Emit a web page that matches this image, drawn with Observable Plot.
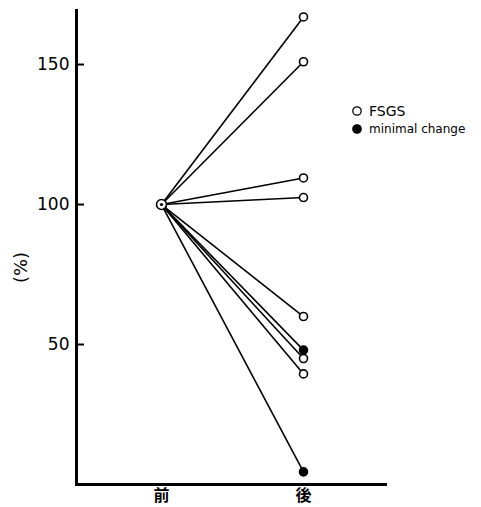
<!DOCTYPE html>
<html>
<head>
<meta charset="utf-8">
<script src="https://cdn.jsdelivr.net/npm/d3@7"></script>
<script src="https://cdn.jsdelivr.net/npm/@observablehq/plot@0.6"></script>
<style>
  html, body { margin: 0; padding: 0; background: #fff; }
  #wrap { position: relative; width: 481px; height: 507px; }
  #legend { position: absolute; left: 351px; top: 102px; font-family: "DejaVu Sans", sans-serif; color: #000; }
  #legend .row { display: flex; align-items: center; height: 18px; }
  #legend svg { margin-right: 6px; }
</style>
</head>
<body>
<div id="wrap"></div>
<script>
// ---- data ----
const stages = ["前", "後"];
const beforeValues = [100, 100, 100, 100, 100, 100, 100, 100, 100];
const afterValues = [167, 151, 109.5, 102.5, 60, 48, 45, 39.5, 4.5];
const groups = ["FSGS", "FSGS", "FSGS", "FSGS", "FSGS", "minimal change", "FSGS", "FSGS", "minimal change"];
const groupNames = ["FSGS", "minimal change"];
const groupFills = ["white", "black"];
const yTicks = [50, 100, 150];
const yLabel = "(%)";

const idx = afterValues.map((_, i) => i);
const cjk = '"Noto Sans CJK JP", sans-serif';

const chart = Plot.plot({
  width: 481,
  height: 507,
  marginLeft: 76,
  marginRight: 94,
  marginTop: 10,
  marginBottom: 23,
  style: { fontFamily: '"DejaVu Sans", sans-serif', background: "white", color: "black", overflow: "visible" },
  x: { type: "point", domain: stages, padding: 0.595, align: 0.5 },
  y: { domain: [0, 169.3] },
  color: { domain: groupNames, range: groupFills },
  marks: [
    Plot.frame({ anchor: "left", strokeWidth: 3 }),
    Plot.ruleY([0], { strokeWidth: 3 }),
    Plot.axisY({ ticks: yTicks, tickSize: 8, dx: 8, strokeWidth: 2, tickFormat: () => "", label: null }),
    Plot.axisY({ ticks: yTicks, tickSize: 0, tickPadding: 7, fontSize: 17, label: null }),
    Plot.axisX({ tickSize: 0, tickPadding: 5, fontSize: 16, fontWeight: "bold", fontFamily: cjk, label: null }),
    Plot.text([yLabel], { frameAnchor: "left", y: () => 78, dx: -55, dy: 17, rotate: -90, fontSize: 18 }),
    Plot.link(idx, {
      x1: () => stages[0], y1: i => beforeValues[i],
      x2: () => stages[1], y2: i => afterValues[i],
      stroke: "black", strokeWidth: 1.6
    }),
    Plot.dot(idx, { x: () => stages[1], y: i => afterValues[i], fill: i => groups[i], stroke: "black", strokeWidth: 1.6, r: 4 }),
    Plot.dot([beforeValues[0]], { x: () => stages[0], y: d => d, fill: "white", stroke: "black", strokeWidth: 1.6, r: 5 }),
    Plot.dot([beforeValues[0]], { x: () => stages[0], y: d => d, fill: "black", r: 1.6 })
  ]
});
document.getElementById("wrap").appendChild(chart);

// legend
const legend = document.createElement("div");
legend.id = "legend";
groupNames.forEach((g, i) => {
  const row = document.createElement("div");
  row.className = "row";
  row.innerHTML = `<svg width="12" height="12"><circle cx="6" cy="6" r="4.2" fill="${groupFills[i]}" stroke="black" stroke-width="1.3"/></svg><span style="font-size:${i === 0 ? 14 : 12}px">${g}</span>`;
  legend.appendChild(row);
});
document.getElementById("wrap").appendChild(legend);
</script>
</body>
</html>
